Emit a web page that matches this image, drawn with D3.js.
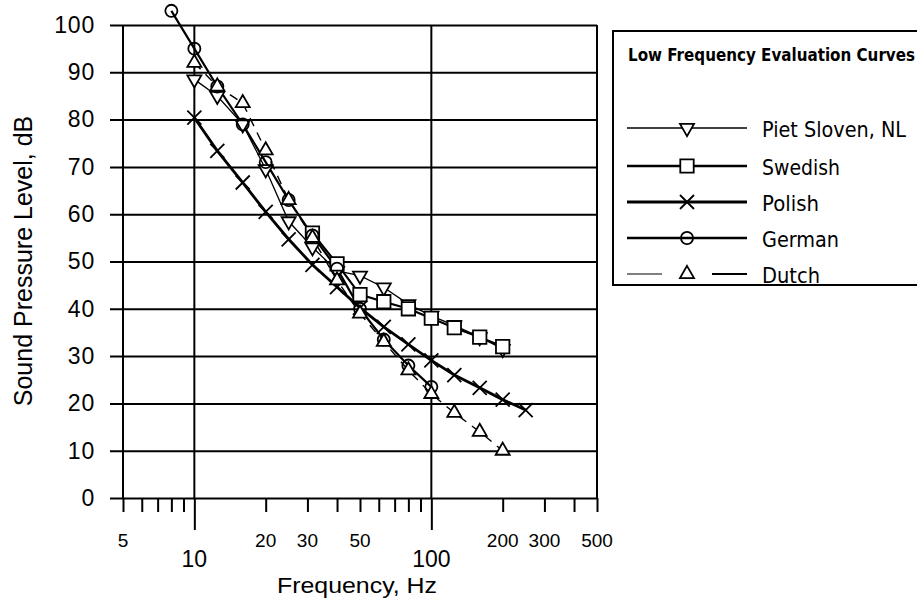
<!DOCTYPE html>
<html>
<head>
<meta charset="utf-8">
<script src="https://cdn.jsdelivr.net/npm/d3@7"></script>
<style>
body { margin: 0; background: #fff; }
svg { display: block; }
</style>
</head>
<body>
<svg id="chart"></svg>
<script>
// data (1/3 octave bands)
const pietFreq = [10, 12.5, 16, 20, 25, 31.5, 40, 50, 63, 80, 100, 125, 160, 200];
const pietLevel = [88.5, 85, 79, 69.5, 58.5, 53, 48, 47, 44.5, 41, 38.5, 36.5, 34, 31.5];

const swedishFreq = [31.5, 40, 50, 63, 80, 100, 125, 160, 200];
const swedishLevel = [56, 49.5, 43, 41.5, 40, 38, 36, 34, 32];

const polishFreq = [10, 12.5, 16, 20, 25, 31.5, 40, 50, 63, 80, 100, 125, 160, 200, 250];
const polishLevel = [80.4, 73.4, 66.7, 60.5, 54.7, 49.3, 44.6, 40.2, 36.2, 32.5, 29.1, 26, 23.3, 20.8, 18.6];

const germanFreq = [8, 10, 12.5, 16, 20, 25, 31.5, 40, 50, 63, 80, 100];
const germanLevel = [103, 95, 87, 79, 71, 63, 55.5, 48.5, 40, 33.5, 28, 23.5];

const dutchFreq = [10, 12.5, 16, 20, 25, 31.5, 40, 50, 63, 80, 100, 125, 160, 200];
const dutchLevel = [92, 87, 83.5, 73.5, 63, 55, 46, 39, 33, 27, 22, 18, 14, 10];

const yTicks = [0, 10, 20, 30, 40, 50, 60, 70, 80, 90, 100];
const xTicks = [5, 6, 7, 8, 9, 10, 20, 30, 40, 50, 60, 70, 80, 90, 100, 200, 300, 400, 500];
const xLabelsHigh = [5, 20, 30, 50, 200, 300, 500];
const xLabelsLow = [10, 100];
const xGrid = [5, 10, 100, 500];

const legendNames = ["Piet Sloven, NL", "Swedish", "Polish", "German", "Dutch"];

const font = "'Liberation Sans', Arial, sans-serif";
const narrow = "'Liberation Sans Narrow', 'Arial Narrow', 'DejaVu Sans Condensed', sans-serif";

const svg = d3.select("#chart")
    .attr("width", 917)
    .attr("height", 600);

const x = d3.scaleLog().domain([5, 500]).range([123, 597]);
const y = d3.scaleLinear().domain([0, 100]).range([498, 25]);

// horizontal grid lines, they also stick out left as ticks
svg.append("g")
    .attr("transform", "translate(110,0)")
    .call(d3.axisLeft(y).tickValues(yTicks).tickSize(-(597 - 110)).tickPadding(15))
    .call(g => g.select(".domain").remove())
    .call(g => g.selectAll("line").attr("stroke", "#000").attr("stroke-width", 2))
    .call(g => g.selectAll("text")
        .attr("font-family", font)
        .attr("font-size", 23)
        .attr("letter-spacing", 0.8)
        .attr("fill", "#000"));

// x ticks under the axis
svg.append("g")
    .attr("transform", "translate(0,498)")
    .call(d3.axisBottom(x).tickValues(xTicks).tickSize(14).tickFormat(""))
    .call(g => g.select(".domain").remove())
    .call(g => g.selectAll(".tick line")
        .attr("stroke", "#000")
        .attr("stroke-width", 2)
        .attr("y2", d => (d === 10 || d === 100) ? 32 : 14));

// vertical grid lines
svg.append("g").selectAll("line")
    .data(xGrid)
    .join("line")
    .attr("x1", d => x(d))
    .attr("x2", d => x(d))
    .attr("y1", y(100))
    .attr("y2", y(0))
    .attr("stroke", "#000")
    .attr("stroke-width", 2);

// x labels, two rows
svg.append("g").selectAll("text")
    .data(xLabelsHigh)
    .join("text")
    .attr("x", d => x(d))
    .attr("y", 547)
    .attr("text-anchor", "middle")
    .attr("font-family", font)
    .attr("font-size", 19)
    .text(d => d);

svg.append("g").selectAll("text")
    .data(xLabelsLow)
    .join("text")
    .attr("x", d => x(d))
    .attr("y", 567)
    .attr("text-anchor", "middle")
    .attr("font-family", font)
    .attr("font-size", 23)
    .text(d => d);

svg.append("text")
    .attr("x", 357)
    .attr("y", 593)
    .attr("text-anchor", "middle")
    .attr("font-family", font)
    .attr("font-size", 22)
    .attr("textLength", 160)
    .attr("lengthAdjust", "spacingAndGlyphs")
    .text("Frequency, Hz");

svg.append("text")
    .attr("transform", "translate(32,261) rotate(-90)")
    .attr("text-anchor", "middle")
    .attr("font-family", font)
    .attr("font-size", 25)
    .text("Sound Pressure Level, dB");

// marker shapes
const tri = d3.symbol(d3.symbolTriangle, 85)();
const sq = d3.symbol(d3.symbolSquare, 180)();
const circ = d3.symbol(d3.symbolCircle, 115)();
const cross = "M-7,-7L7,7M7,-7L-7,7";

const series = [
    { name: legendNames[0], f: pietFreq, v: pietLevel, width: 1.3, dash: null, shape: tri, rot: 180, fill: "#fff" },
    { name: legendNames[1], f: swedishFreq, v: swedishLevel, width: 2.2, dash: null, shape: sq, rot: 0, fill: "#fff" },
    { name: legendNames[2], f: polishFreq, v: polishLevel, width: 2.8, dash: null, shape: cross, rot: 0, fill: "none" },
    { name: legendNames[3], f: germanFreq, v: germanLevel, width: 2.2, dash: null, shape: circ, rot: 0, fill: "none" },
    { name: legendNames[4], f: dutchFreq, v: dutchLevel, width: 1.4, dash: "9,7", shape: tri, rot: 0, fill: "#fff" }
];

const line = d3.line()
    .x(d => x(d[0]))
    .y(d => y(d[1]));

series.forEach(s => {
    const pts = s.f.map((f, i) => [f, s.v[i]]);
    svg.append("path")
        .datum(pts)
        .attr("d", line)
        .attr("fill", "none")
        .attr("stroke", "#000")
        .attr("stroke-width", s.width)
        .attr("stroke-dasharray", s.dash);
});

series.forEach(s => {
    const pts = s.f.map((f, i) => [f, s.v[i]]);
    svg.append("g").selectAll("path")
        .data(pts)
        .join("path")
        .attr("d", s.shape)
        .attr("transform", d => `translate(${x(d[0])},${y(d[1])}) rotate(${s.rot})`)
        .attr("fill", s.fill)
        .attr("stroke", "#000")
        .attr("stroke-width", 1.8);
});

// legend
const legend = svg.append("g");

legend.append("rect")
    .attr("x", 613)
    .attr("y", 31)
    .attr("width", 330)
    .attr("height", 254)
    .attr("fill", "#fff")
    .attr("stroke", "#000")
    .attr("stroke-width", 2);

legend.append("text")
    .attr("x", 628)
    .attr("y", 61)
    .attr("font-family", narrow)
    .attr("font-weight", "bold")
    .attr("font-size", 17)
    .attr("textLength", 287)
    .attr("lengthAdjust", "spacingAndGlyphs")
    .text("Low Frequency Evaluation Curves");

const rowY = [128, 166, 202, 238, 274];
const labelW = [144, 78, 57, 77, 58];

series.forEach((s, i) => {
    const ly = rowY[i];
    if (s.dash) {
        legend.append("line").attr("x1", 627).attr("x2", 662).attr("y1", ly).attr("y2", ly)
            .attr("stroke", "#000").attr("stroke-width", 1.2);
        legend.append("line").attr("x1", 712).attr("x2", 747).attr("y1", ly).attr("y2", ly)
            .attr("stroke", "#000").attr("stroke-width", 2);
    } else {
        legend.append("line").attr("x1", 627).attr("x2", 747).attr("y1", ly).attr("y2", ly)
            .attr("stroke", "#000").attr("stroke-width", s.width + 0.4);
    }
    legend.append("path")
        .attr("d", s.shape)
        .attr("transform", `translate(687,${ly}) rotate(${s.rot})`)
        .attr("fill", s.fill)
        .attr("stroke", "#000")
        .attr("stroke-width", 1.8);
    legend.append("text")
        .attr("x", 762)
        .attr("y", ly + 9)
        .attr("font-family", narrow)
        .attr("font-size", 21)
        .attr("textLength", labelW[i])
        .attr("lengthAdjust", "spacingAndGlyphs")
        .text(s.name);
});
</script>
</body>
</html>
